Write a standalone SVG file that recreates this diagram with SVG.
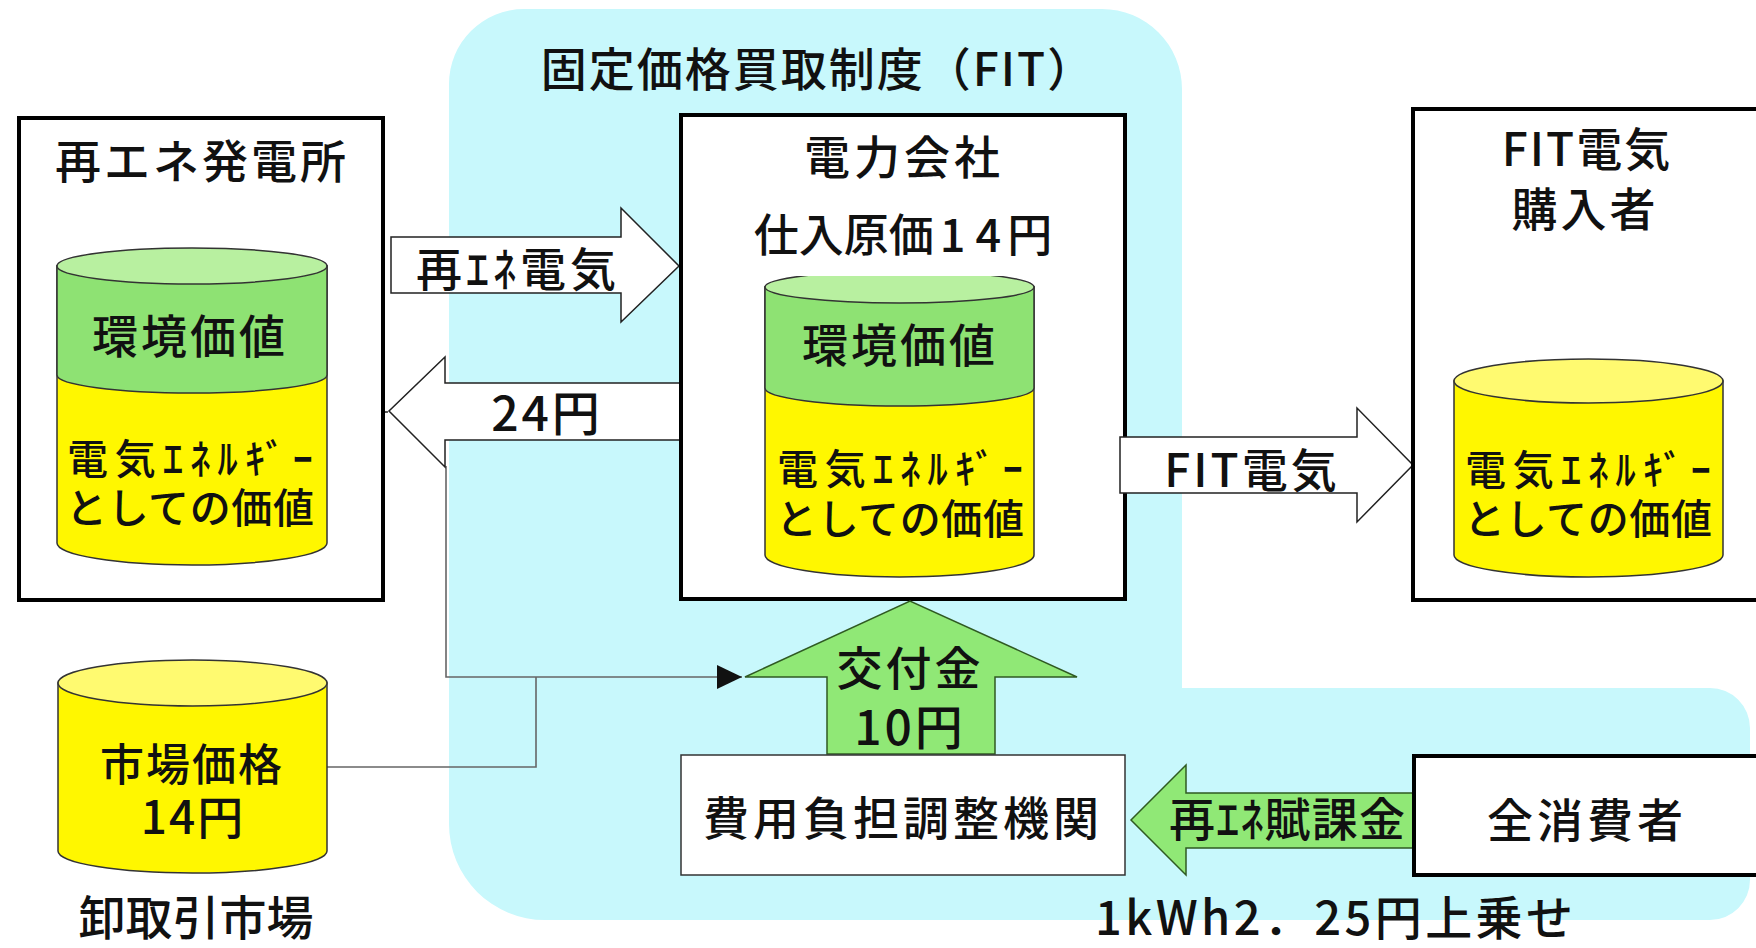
<svg xmlns="http://www.w3.org/2000/svg" width="1756" height="948" viewBox="0 0 1756 948">
<defs>
<style>
.t{font-family:"Noto Sans CJK JP","Noto Sans",sans-serif;fill:#111;text-anchor:middle;font-weight:500;}
.box{fill:#fff;stroke:#000;stroke-width:4;}
.thin{fill:#fff;stroke:#333;stroke-width:1.5;}
.cy{stroke:#333;stroke-width:1.5;}
.yel{fill:#FFF700;}
.yel2{fill:#FFFA70;}
.grn{fill:#8EE273;}
.grn2{fill:#B8F0A0;}
.conn{fill:none;stroke:#666;stroke-width:1.6;}
.wa{fill:#fff;stroke:#222;stroke-width:1.5;}
.ga{fill:#90E876;stroke:#2f5a22;stroke-width:1.5;}
</style>
<marker id="ah" markerWidth="26" markerHeight="24" refX="25" refY="12" orient="auto" markerUnits="userSpaceOnUse">
<path d="M0,0 L25,12 L0,24 Z" fill="#111"/>
</marker>
</defs>
<rect width="1756" height="948" fill="#fff"/>
<path id="fit-area" d="M449,84 A75,75 0 0 1 524,9 L1102,9 A80,80 0 0 1 1182,89 L1182,688 L1710,688 A40,40 0 0 1 1750,728 L1750,880 A40,40 0 0 1 1710,920 L545,920 A96,96 0 0 1 449,824 Z" fill="#C8F8FC"/>
<text class="t" x="818" y="86" font-size="46" letter-spacing="2">固定価格買取制度（FIT）</text>

<g id="connectors">
<path class="conn" d="M446,466 L446,677 L742,677" marker-end="url(#ah)"/>
<path class="conn" d="M327,767 L536,767 L536,677"/>
<path d="M319,262 Q356,262 356,278 L356,404 Q356,411 388,412 Q356,413 356,420 L356,548 Q356,564 326,564" fill="none" stroke="#333" stroke-width="1.3"/>
</g>

<g id="plant">
<rect class="box" x="19" y="118" width="364" height="482"/>
<text class="t" x="202" y="178" font-size="46" letter-spacing="3">再エネ発電所</text>
<g id="plant-cyl">
<path class="cy yel" d="M57,266 L57,543 A135,22 0 0 0 327,543 L327,266 Z"/>
<path class="cy grn" d="M57,266 L57,375 A135,18 0 0 0 327,375 L327,266 Z"/>
<ellipse class="cy grn2" cx="192" cy="266" rx="135" ry="18"/>
<text class="t" x="190" y="353" font-size="46" letter-spacing="3">環境価値</text>
<text class="t" x="190" y="474" font-size="41" textLength="246" lengthAdjust="spacing">電気ｴﾈﾙｷﾞｰ</text>
<text class="t" x="190" y="523" font-size="41" textLength="248" lengthAdjust="spacing">としての価値</text>
</g>
</g>

<g id="arrow-reene">
<path class="wa" d="M391,237 L621,237 L621,208 L679,266 L621,322 L621,293 L391,293 Z"/>
<text class="t" x="518" y="286" font-size="46" letter-spacing="4">再ｴﾈ電気</text>
</g>

<g id="arrow-24">
<path class="wa" d="M680,383 L445,383 L445,357 L389,411 L445,467 L445,440 L680,440"/>
<text class="t" x="547" y="431" font-size="48" letter-spacing="3">24円</text>
</g>

<g id="company">
<rect class="box" x="681" y="115" width="444" height="484"/>
<text class="t" x="904" y="174" font-size="46" letter-spacing="4">電力会社</text>
<path class="cy yel" d="M765,287 L765,555 A134.5,22 0 0 0 1034,555 L1034,287 Z"/>
<path class="cy grn" d="M765,287 L765,388 A134.5,18 0 0 0 1034,388 L1034,287 Z"/>
<ellipse class="cy grn2" cx="899.5" cy="287" rx="134.5" ry="16"/>
<rect x="720" y="192" width="360" height="84" fill="#fff"/>
<text class="t" x="903" y="252" font-size="45">仕入原価<tspan dx="6">1</tspan><tspan dx="10">4</tspan><tspan dx="6">円</tspan></text>
<text class="t" x="900" y="362" font-size="46" letter-spacing="3">環境価値</text>
<text class="t" x="900" y="484" font-size="41" textLength="246" lengthAdjust="spacing">電気ｴﾈﾙｷﾞｰ</text>
<text class="t" x="900" y="534" font-size="41" textLength="248" lengthAdjust="spacing">としての価値</text>
</g>

<g id="arrow-fit">
<path class="wa" d="M1120,437 L1357,437 L1357,408 L1413,465 L1357,522 L1357,493 L1120,493 Z"/>
<text class="t" x="1252" y="487" font-size="46" letter-spacing="3">FIT電気</text>
</g>

<g id="buyer">
<rect class="box" x="1413" y="109" width="360" height="491"/>
<text class="t" x="1587" y="166" font-size="46" letter-spacing="2">FIT電気</text>
<text class="t" x="1585" y="226" font-size="46" letter-spacing="3">購入者</text>
<path class="cy yel" d="M1454,381 L1454,555 A134.5,22 0 0 0 1723,555 L1723,381 Z"/>
<ellipse class="cy yel2" cx="1588.5" cy="381" rx="134.5" ry="22"/>
<text class="t" x="1588" y="485" font-size="41" textLength="246" lengthAdjust="spacing">電気ｴﾈﾙｷﾞｰ</text>
<text class="t" x="1588" y="534" font-size="41" textLength="248" lengthAdjust="spacing">としての価値</text>
</g>

<g id="market">
<path class="cy yel" d="M58,683 L58,851 A134.5,22 0 0 0 327,851 L327,683 Z"/>
<ellipse class="cy yel2" cx="192.5" cy="683" rx="134.5" ry="23"/>
<text class="t" x="192" y="781" font-size="44" letter-spacing="2">市場価格</text>
<text class="t" x="193" y="834" font-size="46" letter-spacing="2">14円</text>
<text class="t" x="196" y="935" font-size="47">卸取引市場</text>
</g>

<g id="arrow-subsidy">
<path class="ga" d="M827,754 L827,677 L745,677 L910,601 L1077,677 L995,677 L995,754 Z"/>
<text class="t" x="910" y="685" font-size="46" letter-spacing="3">交付金</text>
<text class="t" x="910" y="745" font-size="48" letter-spacing="3">10円</text>
</g>

<g id="agency">
<rect class="thin" x="681" y="755" width="444" height="120"/>
<text class="t" x="903" y="835" font-size="46" letter-spacing="4">費用負担調整機関</text>
</g>

<g id="arrow-levy">
<path class="ga" d="M1414,793 L1186,793 L1186,765 L1131,820 L1186,875 L1186,848 L1414,848 Z"/>
<text class="t" x="1287" y="836" font-size="46" textLength="236" lengthAdjust="spacing">再ｴﾈ賦課金</text>
</g>

<g id="consumers">
<rect class="box" x="1414" y="756" width="360" height="119"/>
<text class="t" x="1587" y="837" font-size="46" letter-spacing="4">全消費者</text>
</g>

<text class="t" x="1334" y="935" font-size="47" textLength="478" lengthAdjust="spacing">1kWh2．25円上乗せ</text>
</svg>
